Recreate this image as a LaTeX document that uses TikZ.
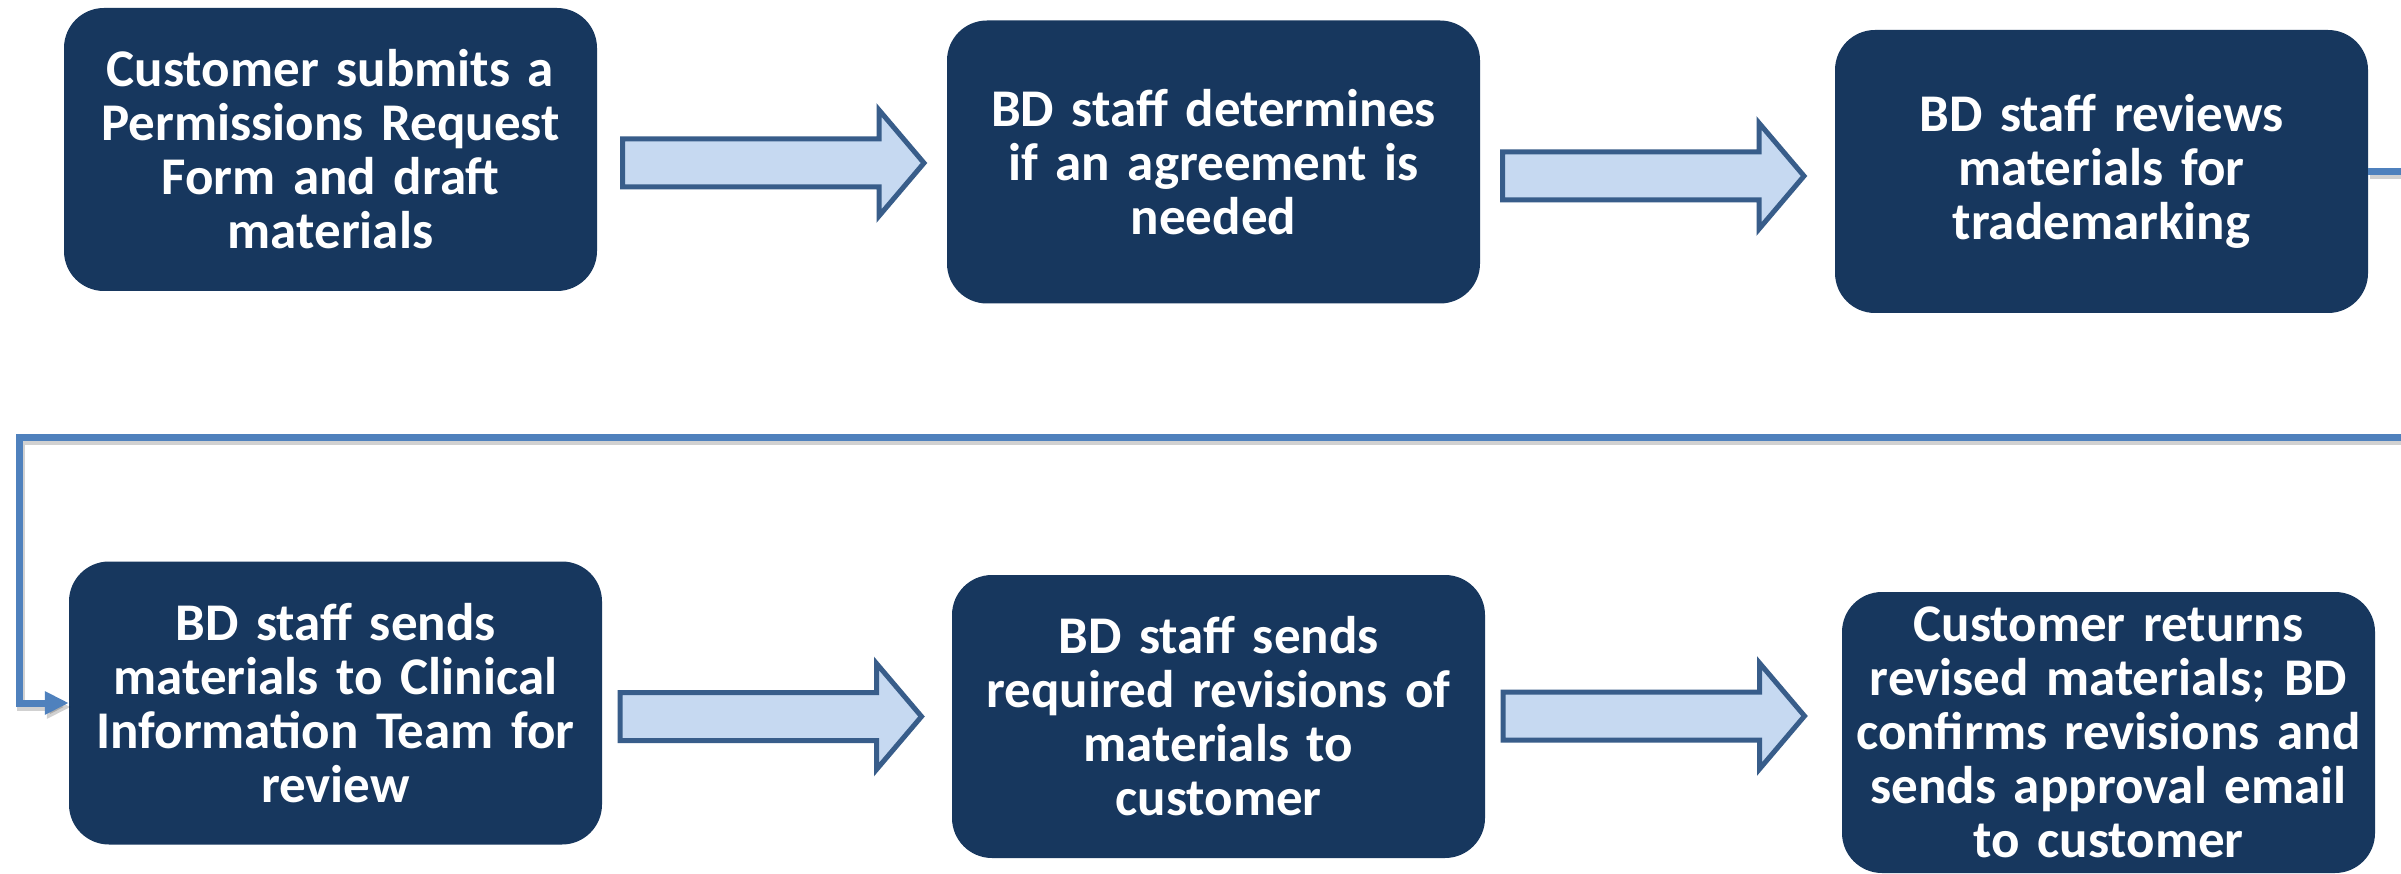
\documentclass[tikz,border=0pt]{standalone}
\usepackage{fontspec}
\setmainfont{Carlito}
\usetikzlibrary{arrows.meta,calc}
\definecolor{boxfill}{HTML}{17375E}
\definecolor{arrfill}{HTML}{C6D9F1}
\definecolor{arrline}{HTML}{385D8A}
\definecolor{conn}{HTML}{4F81BD}
\newcommand\blockarrow[1]{\draw[blockarr] ($(#1)+(-151.5,-24)$) -- ($(#1)+(105,-24)$) -- ($(#1)+(105,-53)$) -- ($(#1)+(150,0)$) -- ($(#1)+(105,53)$) -- ($(#1)+(105,24)$) -- ($(#1)+(-151.5,24)$) -- cycle;}
\begin{document}
\begin{tikzpicture}[x=1pt,y=-1pt,
 stepbox/.style={draw=none, fill=boxfill, rounded corners=40pt, minimum width=533pt, minimum height=283pt, text width=520pt, align=center, inner sep=0pt, text=white, font=\fontsize{53}{54}\selectfont\bfseries},
 blockarr/.style={draw=arrline, fill=arrfill, line width=5pt, line join=miter},
 connline/.style={draw=conn, line width=7pt},
 connshadow/.style={draw=black, opacity=0.18, line width=8pt, transform canvas={xshift=2pt,yshift=-4pt}}]
\useasboundingbox (0,0) rectangle (2401,874);
\clip (0,0) rectangle (2401,874);
\fill[white] (0,0) rectangle (2401,874);

\node[stepbox] (b1) at (330.5,149.5) {Customer submits a\\Permissions Request\\Form and draft\\materials};
\node[stepbox] (b2) at (1213.5,162) {BD staff determines\\if an agreement is\\needed};
\node[stepbox] (b3) at (2101.5,171.5) {BD staff reviews\\materials for\\trademarking};
\node[stepbox] (b4) at (335.5,703) {BD staff sends\\materials to Clinical\\Information Team for\\review};
\node[stepbox] (b5) at (1218.5,716.5) {BD staff sends\\required revisions of\\materials to\\customer};
\node[stepbox, minimum height=281pt] (b6) at (2108.5,732.5) {Customer returns\\revised materials; BD\\confirms revisions and\\sends approval email\\to customer};

\coordinate (a1) at (774,163);
\coordinate (a2) at (1654,176);
\coordinate (a4) at (771.5,716.5);
\coordinate (a5) at (1654.5,716);
\blockarrow{a1}
\blockarrow{a2}
\blockarrow{a4}
\blockarrow{a5}

\coordinate (c1) at (2440,171.5);
\coordinate (c2) at (2440,437);
\coordinate (c3) at (19,437);
\draw[connshadow, -{Triangle[length=24pt,width=22pt]}] (b3.east) -- (c1) -- (c2) -- (c3) |- (b4.west);
\draw[connline, -{Triangle[length=24pt,width=22pt]}] (b3.east) -- (c1) -- (c2) -- (c3) |- (b4.west);
\end{tikzpicture}
\end{document}
